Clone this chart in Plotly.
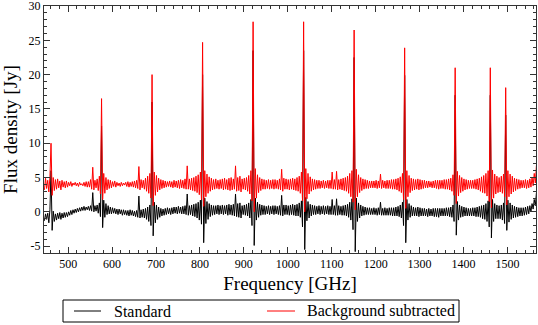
import plotly.graph_objects as go

# sampling grid of the spectra [GHz], 2.5 GHz steps from 446 to 1566
freq = [446 + 2.5 * i for i in range(449)]

# Flux density [Jy], standard pipeline
standard = [
    -1.3, -0.3, -1.1, -0.2, -1.6, 0.3, 6.0, -2.7, 0.1, -1.4, -0.3, -1.2, -0.2, -1.0, -0.1, -1.1, -0.2, -0.9, -0.1, -0.8,
    -0.1, -0.7, 0.0, -0.5, 0.2, -0.4, 0.3, -0.2, 0.4, -0.1, 0.5, 0.0, 0.6, 0.1, 0.7, 0.2, 0.8, 0.2, 0.7, 0.3,
    0.8, 0.2, 0.9, 0.1, 2.8, 0.0, 0.9, 0.1, 1.0, -0.2, 1.3, -0.7, 12.5, -2.3, 1.7, -0.8, 1.2, -0.4, 0.9, -0.3,
    0.7, -0.3, 0.6, -0.2, 0.5, -0.3, 0.4, -0.4, 0.4, -0.3, 0.3, -0.5, 0.3, -0.4, 0.2, -0.5, 0.2, -0.6, 0.3, -0.5,
    0.2, -0.6, 0.1, -0.7, 0.2, -0.8, 2.3, -0.9, 0.3, -0.8, 0.4, -0.9, 0.5, -1.1, 0.7, -1.4, 1.0, -2.0, 16.0, -3.5,
    1.4, -1.6, 1.0, -1.1, 0.7, -0.8, 0.5, -0.6, 0.4, -0.5, 0.5, -0.4, 0.6, -0.3, 0.5, -0.4, 0.6, -0.3, 0.7, -0.2,
    0.7, -0.3, 0.8, -0.2, 0.7, -0.3, 0.8, -0.3, 0.9, -0.4, 2.6, -0.5, 0.9, -0.4, 1.0, -0.6, 1.1, -0.7, 1.2, -0.9,
    1.4, -1.2, 1.7, -1.8, 20.0, -4.5, 2.0, -1.7, 1.5, -1.1, 1.2, -0.7, 1.0, -0.5, 0.9, -0.4, 0.9, -0.3, 1.0, -0.4,
    0.9, -0.3, 1.0, -0.4, 0.9, -0.3, 1.0, -0.5, 1.1, -0.4, 1.0, -0.5, 1.1, -0.6, 2.6, -0.7, 1.2, -0.8, 1.3, -0.9,
    0.9, -0.4, 1.0, -0.5, 1.1, -0.6, 1.3, -0.9, 1.8, -2.0, 23.5, -4.9, 2.0, -1.2, 1.4, -0.8, 1.1, -0.5, 1.0, -0.4,
    0.9, -0.4, 0.8, -0.3, 0.9, -0.4, 0.8, -0.3, 0.9, -0.4, 0.9, -0.3, 0.8, -0.4, 0.9, -0.5, 2.4, -0.6, 1.0, -0.4,
    1.0, -0.4, 0.9, -0.5, 1.0, -0.4, 1.1, -0.5, 1.0, -0.6, 1.1, -0.6, 1.3, -0.8, 1.6, -2.2, 23.5, -5.5, 2.1, -1.3,
    1.5, -0.9, 1.1, -0.6, 1.0, -0.4, 0.9, -0.4, 0.8, -0.3, 0.9, -0.4, 0.8, -0.3, 0.9, -0.4, 0.8, -0.3, 0.9, -0.4,
    0.8, -0.4, 1.8, -0.4, 0.9, -0.5, 1.9, -0.5, 0.9, -0.4, 0.8, -0.5, 0.9, -0.5, 1.0, -0.6, 1.1, -0.8, 1.4, -1.2,
    1.9, -2.6, 22.5, -5.8, 2.0, -1.4, 1.3, -0.9, 1.0, -0.6, 0.8, -0.5, 0.7, -0.4, 0.6, -0.4, 0.6, -0.4, 0.5, -0.4,
    0.6, -0.4, 0.5, -0.5, 0.6, -0.4, 1.4, -0.5, 0.5, -0.5, 0.6, -0.5, 0.5, -0.5, 0.6, -0.5, 0.6, -0.6, 0.6, -0.6,
    0.7, -0.6, 0.8, -0.7, 1.0, -0.9, 1.4, -2.0, 19.9, -4.5, 1.8, -1.2, 1.2, -0.8, 0.9, -0.6, 0.7, -0.6, 0.6, -0.6,
    0.7, -0.7, 0.6, -0.6, 0.5, -0.6, 0.5, -0.6, 0.4, -0.7, 0.5, -0.6, 0.4, -0.6, 0.5, -0.7, 0.5, -0.7, 0.5, -0.8,
    0.5, -0.6, 0.5, -0.6, 0.5, -0.6, 0.6, -0.6, 0.6, -0.7, 0.7, -0.8, 1.0, -1.4, 17.0, -3.4, 1.5, -1.2, 1.0, -0.8,
    0.8, -0.7, 0.7, -0.6, 0.6, -0.6, 0.5, -0.6, 0.5, -0.6, 0.6, -0.6, 0.6, -0.7, 0.7, -0.7, 0.8, -0.8, 0.9, -1.0,
    1.0, -1.1, 1.2, -1.4, 1.6, -2.2, 17.0, -3.8, 1.8, -1.4, 1.2, -1.0, 1.0, -1.0, 0.9, -1.0, 1.0, -1.2, 1.3, -1.7,
    14.1, -2.7, 1.7, -1.5, 1.3, -1.1, 1.0, -0.9, 0.8, -0.8, 0.7, -0.7, 0.6, -0.6, 0.6, -0.6, 0.6, -0.5, 0.7, -0.4,
    0.8, -0.3, 0.9, 0.0, 1.2, 0.4, 1.8, 0.9, 2.8,
]

# Flux density [Jy], background subtracted
bg_sub = [
    3.2, 4.9, 3.4, 4.6, 2.9, 5.1, 10.0, 2.4, 5.0, 3.1, 4.7, 3.3, 4.8, 3.5, 4.5, 3.2, 4.6, 3.6, 4.4, 3.5,
    4.5, 3.6, 4.3, 3.8, 4.4, 3.7, 4.2, 3.9, 4.3, 3.8, 4.2, 3.7, 4.3, 3.9, 4.1, 3.8, 4.3, 3.7, 4.4, 3.6,
    4.4, 3.6, 4.7, 3.3, 6.5, 3.2, 4.6, 3.5, 4.8, 3.1, 5.2, 2.6, 16.5, 1.8, 5.6, 2.7, 5.0, 3.2, 4.7, 3.4,
    4.6, 3.5, 4.4, 3.7, 4.5, 3.6, 4.3, 3.8, 4.2, 3.7, 4.3, 3.8, 4.2, 3.9, 4.3, 3.7, 4.4, 3.6, 4.3, 3.7,
    4.4, 3.6, 4.5, 3.5, 4.6, 3.4, 6.6, 3.2, 4.7, 3.5, 4.6, 3.3, 4.9, 3.0, 5.2, 2.7, 5.6, 2.0, 20.0, 0.9,
    5.8, 2.4, 5.3, 2.9, 4.9, 3.2, 4.7, 3.4, 4.6, 3.5, 4.5, 3.6, 4.4, 3.7, 4.5, 3.6, 4.4, 3.5, 4.6, 3.6,
    4.5, 3.5, 4.6, 3.4, 4.7, 3.5, 4.6, 3.4, 4.8, 3.3, 6.7, 3.3, 4.8, 3.2, 4.9, 3.1, 5.0, 3.0, 5.2, 2.8,
    5.4, 2.5, 5.8, 1.8, 24.7, 0.8, 6.0, 2.2, 5.5, 2.7, 5.1, 3.0, 4.9, 3.2, 4.7, 3.3, 4.8, 3.4, 4.6, 3.3,
    4.7, 3.4, 4.8, 3.2, 4.9, 3.3, 4.7, 3.2, 4.9, 3.1, 5.0, 3.2, 4.8, 3.3, 6.7, 3.0, 5.0, 3.1, 5.2, 2.9,
    4.8, 3.3, 4.9, 3.2, 5.0, 3.0, 5.3, 2.6, 6.0, 1.6, 27.7, 0.0, 6.3, 2.0, 5.4, 2.8, 5.0, 3.1, 4.8, 3.3,
    4.7, 3.3, 4.6, 3.4, 4.7, 3.3, 4.6, 3.4, 4.7, 3.3, 4.7, 3.4, 4.6, 3.3, 4.8, 3.2, 6.2, 3.0, 4.9, 3.3,
    4.8, 3.3, 4.7, 3.2, 4.8, 3.3, 4.9, 3.2, 4.8, 3.1, 5.0, 3.0, 5.2, 2.7, 5.8, 1.6, 27.7, 0.0, 6.3, 1.9,
    5.6, 2.6, 5.1, 3.0, 4.8, 3.2, 4.7, 3.3, 4.6, 3.4, 4.6, 3.4, 4.5, 3.5, 4.6, 3.4, 4.5, 3.5, 4.6, 3.4,
    4.6, 3.4, 5.8, 3.3, 4.7, 3.3, 5.9, 3.2, 4.7, 3.3, 4.8, 3.2, 4.9, 3.1, 5.0, 3.0, 5.2, 2.7, 5.6, 2.2,
    6.0, 1.4, 26.5, 0.3, 6.2, 2.2, 5.4, 2.8, 5.0, 3.1, 4.8, 3.3, 4.7, 3.4, 4.6, 3.4, 4.5, 3.5, 4.5, 3.5,
    4.5, 3.5, 4.6, 3.4, 4.5, 3.5, 5.5, 3.4, 4.6, 3.5, 4.5, 3.4, 4.6, 3.4, 4.6, 3.4, 4.7, 3.3, 4.7, 3.3,
    4.8, 3.2, 4.9, 3.0, 5.1, 2.8, 5.6, 1.8, 23.9, 0.5, 6.0, 2.2, 5.3, 2.8, 4.9, 3.1, 4.8, 3.2, 4.7, 3.3,
    4.8, 3.2, 4.7, 3.3, 4.6, 3.4, 4.6, 3.5, 4.5, 3.5, 4.5, 3.6, 4.4, 3.5, 4.5, 3.5, 4.6, 3.4, 4.6, 3.3,
    4.6, 3.4, 4.6, 3.4, 4.7, 3.3, 4.7, 3.3, 4.8, 3.2, 4.9, 3.0, 5.4, 2.4, 21.0, 1.2, 5.9, 2.3, 5.3, 2.8,
    5.0, 3.0, 4.8, 3.2, 4.7, 3.3, 4.6, 3.4, 4.6, 3.4, 4.6, 3.4, 4.7, 3.3, 4.8, 3.2, 4.9, 3.0, 5.1, 2.8,
    5.3, 2.7, 5.6, 2.3, 6.0, 1.5, 21.0, 0.6, 6.1, 2.0, 5.5, 2.6, 5.2, 2.8, 5.0, 2.9, 5.2, 2.7, 5.5, 2.2,
    18.1, 1.0, 6.0, 2.2, 5.5, 2.6, 5.2, 2.9, 4.9, 3.1, 4.8, 3.3, 4.7, 3.4, 4.6, 3.5, 4.6, 3.5, 4.7, 3.4,
    4.6, 3.5, 4.8, 3.6, 5.0, 3.8, 5.6, 4.2, 6.8,
]

series_names = ["Standard", "Background subtracted"]
series_colors = ["black", "#ff0000"]

y_ticks = [-5, 0, 5, 10, 15, 20, 25, 30]
y_ticktext = ["-5", "0", "5", "10", "15", "20", "25", "30"]
x_ticks = [500, 600, 700, 800, 900, 1000, 1100, 1200, 1300, 1400, 1500]

FONT = "Liberation Serif, Times New Roman, serif"

fig = go.Figure()
for ys, name, col in zip([standard, bg_sub], series_names, series_colors):
    fig.add_trace(go.Scatter(x=freq, y=ys, name=name, mode="lines",
                             line=dict(color=col, width=1), showlegend=False))

axis_common = dict(showline=True, linecolor="#333333", linewidth=1, mirror="allticks",
                   ticks="inside", ticklen=6, tickcolor="#333333", showgrid=False,
                   zeroline=False, ticklabeloverflow="allow", automargin=False,
                   tickfont=dict(family=FONT, size=12, color="black"))

fig.update_xaxes(range=[445, 1565], tickvals=x_ticks,
                 title=dict(text="Frequency [GHz]", font=dict(family=FONT, size=19, color="black"), standoff=6),
                 minor=dict(ticks="inside", ticklen=3, dtick=20, tick0=0, tickcolor="#333333"),
                 **axis_common)
fig.update_yaxes(range=[-6, 30], tickvals=y_ticks, ticktext=y_ticktext,
                 title=dict(text="Flux density [Jy]", font=dict(family=FONT, size=19, color="black"), standoff=8),
                 minor=dict(ticks="inside", ticklen=3, dtick=1, tick0=0, tickcolor="#333333"),
                 **axis_common)

# legend box drawn below the axes (paper coordinates: plot spans 44..536 px, 6..253 px)
W, H, L, B = 492.0, 247.0, 44.0, 253.0
px = lambda x: (x - L) / W
py = lambda y: (B - y) / H
fig.add_shape(type="rect", xref="paper", yref="paper", x0=px(63), x1=px(459), y0=py(322), y1=py(300),
              line=dict(color="black", width=1), fillcolor="white")
for (lx0, lx1, tx), name, col in zip([(74, 101, 112), (267, 295, 305)], series_names, series_colors):
    fig.add_shape(type="line", xref="paper", yref="paper", x0=px(lx0), x1=px(lx1), y0=py(311), y1=py(311),
                  line=dict(color=col, width=1))
    fig.add_annotation(xref="paper", yref="paper", x=px(tx), y=py(311), text=name, showarrow=False,
                       xanchor="left", yanchor="middle", font=dict(family=FONT, size=16, color="black"))

fig.update_layout(
    width=538, height=325,
    margin=dict(l=44, r=2, t=6, b=72),
    paper_bgcolor="white", plot_bgcolor="white",
    font=dict(family=FONT, color="black"),
    showlegend=False,
)

# the page body has a default 8px margin; drop it so the figure fills the window
fig.write_html("out.html", config={"displayModeBar": False},
               post_script="document.body.style.margin='0px';")
